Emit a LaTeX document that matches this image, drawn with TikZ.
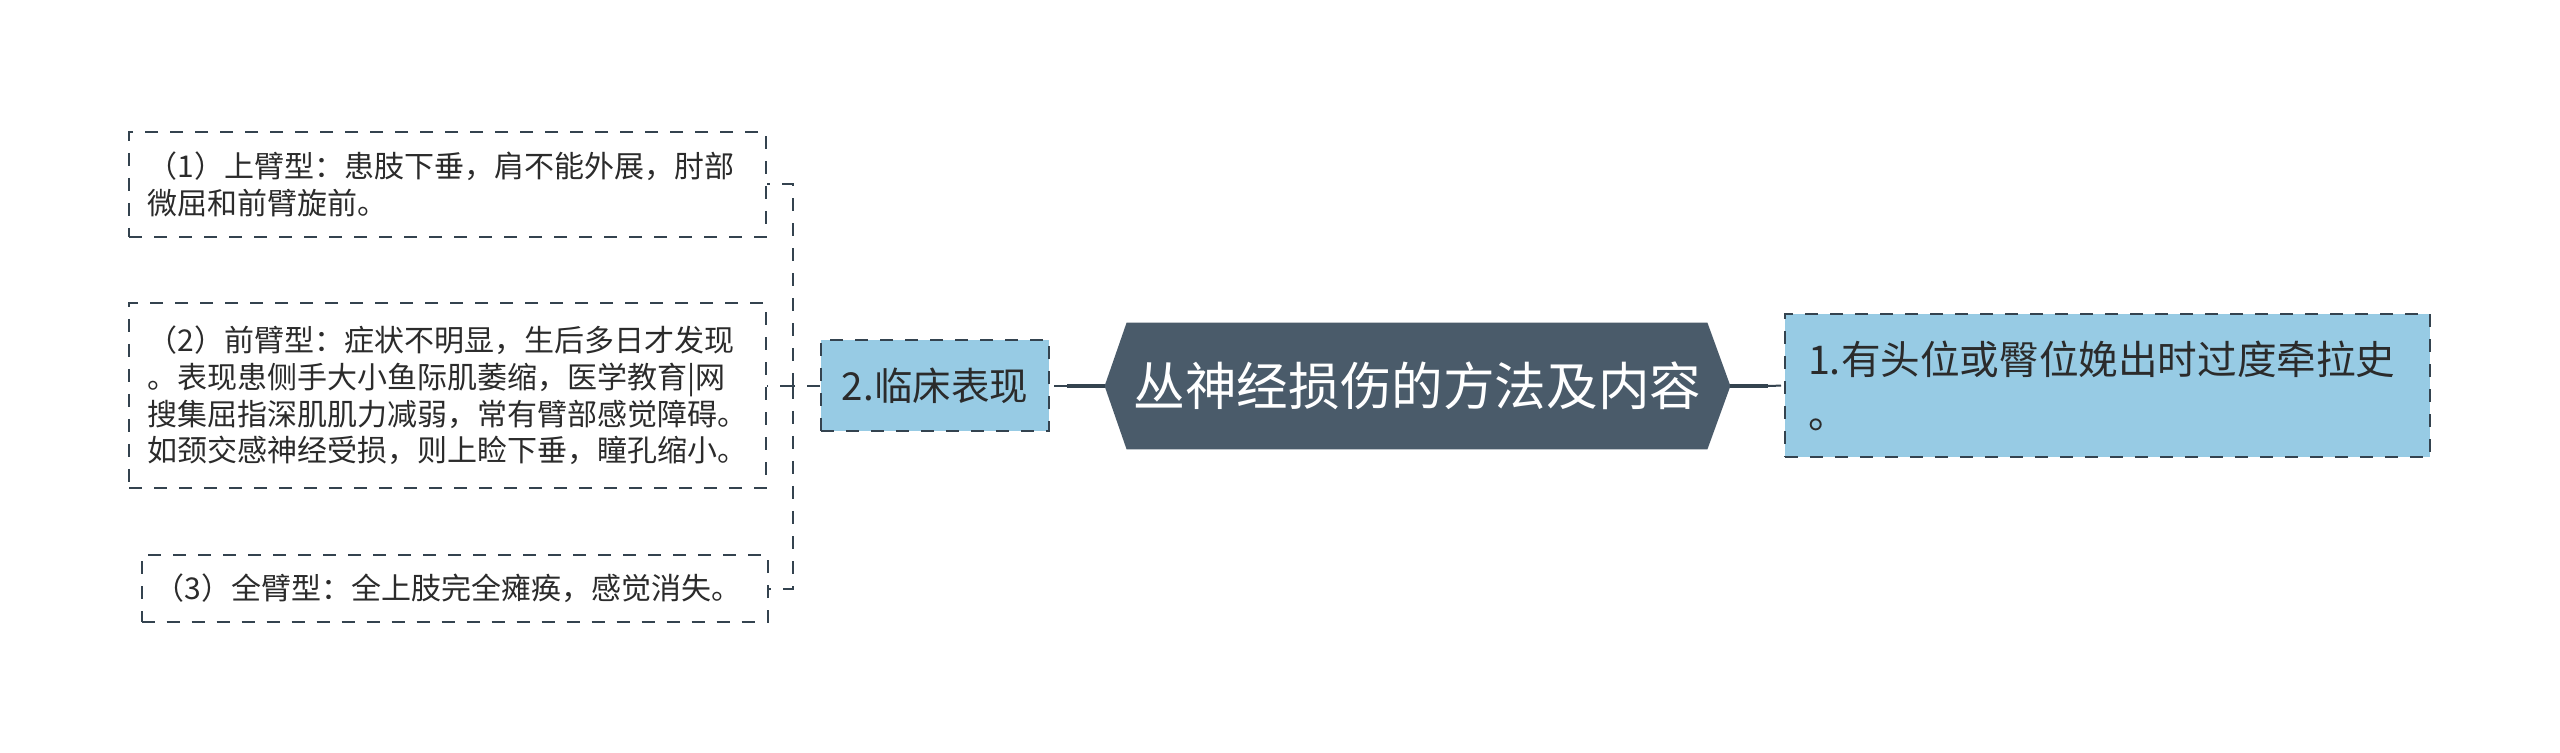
\documentclass[tikz,border=0pt]{standalone}
\usepackage{fontspec}
\setmainfont{Noto Sans CJK SC}
\usetikzlibrary{calc,backgrounds}
\definecolor{dk}{HTML}{34434F}
\definecolor{hexfill}{HTML}{4A5B6A}
\definecolor{lb}{HTML}{97CBE4}
\definecolor{txt}{HTML}{2B2B2B}
\begin{document}
\begin{tikzpicture}[x=0.5pt,y=-0.5pt,
  dsh/.style={dash pattern=on 6.5pt off 6pt},
  leafbox/.style={draw=dk, line width=1pt, dsh, inner xsep=9pt, inner ysep=0pt,
    text width=300pt, align=left, text=txt,
    font=\fontsize{15pt}{18.35pt}\selectfont},
  bluebox/.style={draw=dk, fill=lb, line width=1pt, dsh, inner sep=0pt, text=txt},
  dconn/.style={draw=dk, line width=1pt, dsh},
  sconn/.style={draw=dk, line width=1.75pt}
]
\useasboundingbox (0,0) rectangle (2560,753);

% left leaf boxes
\node[leafbox, minimum width=318.5pt, minimum height=52.5pt] (b1) at (447.5,184.5)
  {（1）上臂型：患肢下垂，肩不能外展，肘部\\微屈和前臂旋前。};
\node[leafbox, minimum width=318.5pt, minimum height=92.5pt] (b2) at (447.5,395.5)
  {（2）前臂型：症状不明显，生后多日才发现\\。表现患侧手大小鱼际肌萎缩，医学教育|网\\搜集屈指深肌肌力减弱，常有臂部感觉障碍。\\如颈交感神经受损，则上睑下垂，瞳孔缩小。};
\node[leafbox, inner xsep=6.5pt, minimum width=312.5pt, minimum height=33.5pt] (b3) at (454.5,588.5)
  {（3）全臂型：全上肢完全瘫痪，感觉消失。};

% branch node
\node[bluebox, minimum width=114pt, minimum height=45.5pt,
  font=\fontsize{19.25pt}{23pt}\selectfont] (n2) at (935,386) {2.临床表现};

% centre node
\node[inner sep=0pt, minimum width=312.5pt, minimum height=63pt, text=white,
  font=\fontsize{25.8pt}{30pt}\selectfont] (c) at (1417.5,386) {丛神经损伤的方法及内容};
\begin{scope}[on background layer]
\fill[white] (0,0) rectangle (2560,753);
\fill[hexfill] (c.west) -- ($(c.north west)+(22,0)$) -- ($(c.north east)+(-23,0)$)
  -- (c.east) -- ($(c.south east)+(-23,0)$) -- ($(c.south west)+(22,0)$) -- cycle;
\end{scope}

% right node
\node[bluebox, minimum width=322.5pt, minimum height=71.5pt, inner xsep=11.5pt,
  text width=299.5pt, align=left,
  font=\fontsize{19.8pt}{27pt}\selectfont] (r) at (2107.5,385.5)
  {1.有头位或臀位娩出时过度牵拉史\\。};

% connectors
\coordinate (j) at (793,386);
\draw[dconn] (n2.west) -- (j);
\draw[dconn] (j) |- (b1.east);
\draw[dconn] (j) |- (b3.east);
\draw[dconn] (j) -- (b2.east |- j);

\coordinate (cl) at (1067,386);
\draw[sconn] (c.west) -- (cl);
\draw[dconn] (cl) -- (n2.east);

\coordinate (cr) at (1768,386);
\draw[sconn] (c.east) -- (cr);
\draw[dconn] (cr) -- (r.west);
\end{tikzpicture}
\end{document}
